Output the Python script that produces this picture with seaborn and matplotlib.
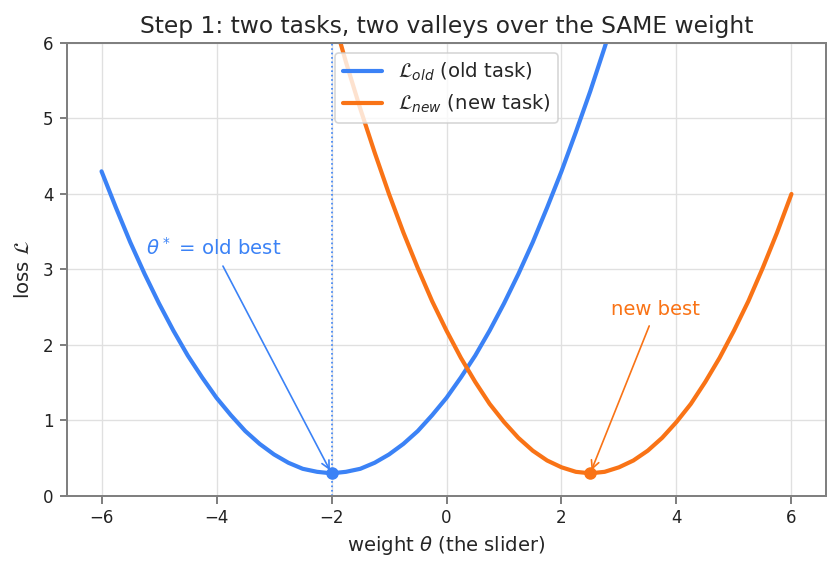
import matplotlib
matplotlib.use("Agg")
import matplotlib.pyplot as plt
import seaborn as sns

# values (every 0.25 on the weight axis)
theta_old = [-6.0, -5.75, -5.5, -5.25, -5.0, -4.75, -4.5, -4.25, -4.0, -3.75, -3.5, -3.25,
             -3.0, -2.75, -2.5, -2.25, -2.0, -1.75, -1.5, -1.25, -1.0, -0.75, -0.5, -0.25,
             0.0, 0.25, 0.5, 0.75, 1.0, 1.25, 1.5, 1.75, 2.0, 2.25, 2.5, 2.75, 3.0]
loss_old = [4.30, 3.82, 3.36, 2.94, 2.55, 2.19, 1.86, 1.57, 1.30, 1.07, 0.86, 0.69,
            0.55, 0.44, 0.36, 0.32, 0.30, 0.32, 0.36, 0.44, 0.55, 0.69, 0.86, 1.07,
            1.30, 1.57, 1.86, 2.19, 2.55, 2.94, 3.36, 3.82, 4.30, 4.82, 5.36, 5.94, 6.55]
theta_new = [-2.0, -1.75, -1.5, -1.25, -1.0, -0.75, -0.5, -0.25, 0.0, 0.25, 0.5, 0.75,
             1.0, 1.25, 1.5, 1.75, 2.0, 2.25, 2.5, 2.75, 3.0, 3.25, 3.5, 3.75,
             4.0, 4.25, 4.5, 4.75, 5.0, 5.25, 5.5, 5.75, 6.0]
loss_new = [6.42, 5.75, 5.13, 4.55, 4.00, 3.49, 3.02, 2.58, 2.19, 1.83, 1.51, 1.22,
            0.98, 0.77, 0.60, 0.47, 0.38, 0.32, 0.30, 0.32, 0.38, 0.47, 0.60, 0.77,
            0.98, 1.22, 1.51, 1.83, 2.19, 2.58, 3.02, 3.49, 4.00]
old_best = (-2.0, 0.3)
new_best = (2.5, 0.3)

blue = "#3b82f6"
orange = "#f97316"

sns.set_theme(style="whitegrid", rc={
    "axes.edgecolor": "#808080",
    "axes.linewidth": 1.2,
    "grid.color": "#e0e0e0",
    "grid.linewidth": 0.8,
    "xtick.bottom": True,
    "ytick.left": True,
    "xtick.color": "#808080",
    "ytick.color": "#808080",
    "xtick.labelcolor": "#222222",
    "ytick.labelcolor": "#222222",
    "xtick.major.size": 4.5,
    "ytick.major.size": 4.5,
    "xtick.major.width": 1.2,
    "ytick.major.width": 1.2,
})
plt.rcParams["font.family"] = ["DejaVu Sans"]

fig, ax = plt.subplots(figsize=(7, 4.775), dpi=120)
fig.subplots_adjust(left=0.0798, right=0.9833, top=0.925, bottom=0.1344)

sns.lineplot(x=theta_old, y=loss_old, ax=ax, color=blue, linewidth=2.5,
             label=r"$\mathcal{L}_{old}$ (old task)")
sns.lineplot(x=theta_new, y=loss_new, ax=ax, color=orange, linewidth=2.5,
             label=r"$\mathcal{L}_{new}$ (new task)")

ax.axvline(old_best[0], color=blue, linestyle=":", linewidth=1)
ax.plot(*old_best, "o", color=blue, markersize=6.5, zorder=5)
ax.plot(*new_best, "o", color=orange, markersize=6.5, zorder=5)

ax.annotate(r"$\theta^*$ = old best", xy=old_best, xytext=(-4.05, 3.28),
            ha="center", va="center", color=blue, fontsize=11.8,
            arrowprops=dict(arrowstyle="->", color=blue, lw=1))
ax.annotate("new best", xy=new_best, xytext=(3.64, 2.47),
            ha="center", va="center", color=orange, fontsize=11.8,
            arrowprops=dict(arrowstyle="->", color=orange, lw=1))

ax.set_xlim(-6.6, 6.6)
ax.set_ylim(0, 6)
ax.set_xticks([-6, -4, -2, 0, 2, 4, 6])
ax.tick_params(labelsize=10)
ax.set_xlabel(r"weight $\theta$ (the slider)", fontsize=11.8)
ax.set_ylabel(r"loss $\mathcal{L}$", fontsize=11.8, labelpad=6)
ax.set_title("Step 1: two tasks, two valleys over the SAME weight", fontsize=14)
ax.legend(loc="upper center", fontsize=11.8)

fig.savefig("out.png", dpi=120)
